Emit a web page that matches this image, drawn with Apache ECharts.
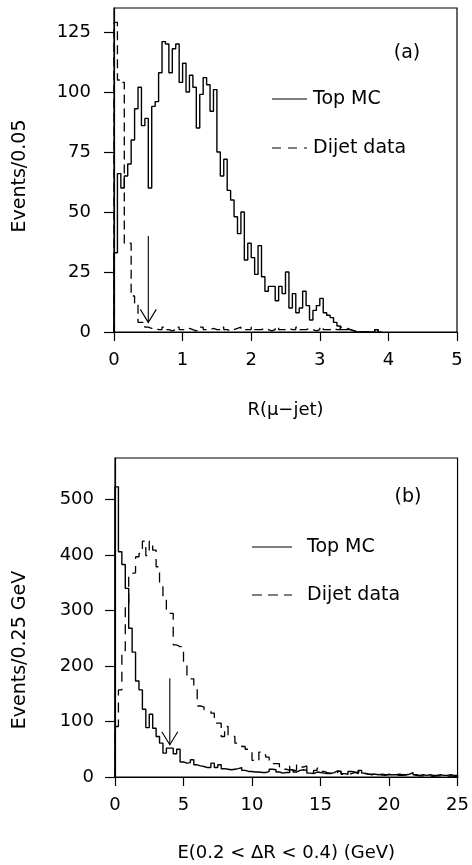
<!DOCTYPE html>
<html>
<head>
<meta charset="utf-8">
<script src="https://cdn.jsdelivr.net/npm/echarts@6/dist/echarts.min.js"></script>
<style>html,body{margin:0;padding:0;background:#fff}#c{width:472px;height:865px}</style>
</head>
<body>
<div id="c"></div>
<script>
// ---------- Panel (a): R(mu-jet), bin width 0.05 ----------
const binA = 0.05;
const topMC_A = [33, 66, 60, 65, 70, 80, 93, 102, 86, 89,
  60, 94, 96, 108, 121, 120, 108, 118, 120, 104,
  112, 100, 107, 102, 85, 99, 106, 103, 92, 101,
  75, 65, 72, 59, 55, 48, 41, 50, 30, 37,
  31, 24, 36, 23, 17, 19, 19, 13, 19, 16,
  25, 10, 16, 8, 10, 17, 11, 5, 9, 11,
  14, 8, 7, 6, 4, 2.5, 1, 1, 1, 0.5,
  0, 0, 0, 0, 0, 0, 1, 0];
const dijet_A = [129, 105, 104, 37, 37, 15, 12, 4, 4, 2,
  1.5, 1.5, 1, 1, 2, 1, 0.5, 1, 2, 1,
  1, 1.5, 1, 0.5, 1, 2, 1, 1, 1.5, 1,
  1, 2, 1, 0.5, 1, 1.5, 2, 1, 1, 1,
  2, 1, 1, 1.5, 1, 0.5, 1, 2, 1, 1,
  1.5, 1, 1, 2, 1, 1, 1.5, 1, 0.5, 1,
  2, 1, 1, 1.5, 1, 1, 2, 1.5, 1, 0.5,
  0.5, 0, 0, 0, 0, 0, 1, 0];
const xTicksA = [0, 1, 2, 3, 4, 5];
const yTicksA = [0, 25, 50, 75, 100, 125];
const arrowA = [0.5, 40, 4];   // x, shaft top, tip (data units)

// ---------- Panel (b): E(0.2<dR<0.4), bin width 0.25 GeV ----------
const binB = 0.25;
const topMC_B = [523, 406, 383, 340, 268, 225, 173, 157, 122, 89,
  113, 88, 73, 61, 43, 52, 52, 42, 50, 27,
  25, 26, 31, 22, 20, 19, 17, 17, 25, 17,
  22, 15, 14, 13, 14, 15, 17, 12, 10, 10,
  9, 9, 8, 8, 10, 14, 13, 9, 7, 8,
  8, 13, 9, 12, 13, 12, 7, 6, 9, 8,
  7, 6, 6, 8, 11, 10, 6, 5, 10, 9,
  6, 12, 7, 5, 5, 5, 4, 5, 4, 4,
  4, 4, 5, 4, 4, 5, 8, 4, 3, 4,
  3, 4, 3, 3, 4, 3, 3, 4, 3, 3];
const dijet_B = [91, 157, 228, 313, 367, 368, 397, 403, 425, 399,
  425, 409, 379, 343, 325, 295, 295, 238, 235, 235,
  205, 181, 177, 163, 128, 126, 121, 119, 115, 97,
  97, 73, 91, 73, 73, 61, 61, 55, 50, 45,
  30, 27, 45, 40, 36, 30, 24, 24, 18, 14,
  12, 20, 12, 22, 18, 20, 10, 8, 12, 16,
  10, 8, 7, 9, 6, 10, 5, 4, 6, 8,
  9, 10, 6, 5, 4, 6, 3, 4, 3, 5,
  3, 4, 3, 3, 4, 3, 5, 3, 2, 2,
  2, 2, 1, 2, 2, 1, 1, 2, 1, 1];
const xTicksB = [0, 5, 10, 15, 20, 25];
const yTicksB = [0, 100, 200, 300, 400, 500];
const arrowB = [4, 178, 58];

const legendNames = ['Top MC', 'Dijet data'];
const yNames = ['Events/0.05', 'Events/0.25 GeV'];

// ---------- helpers ----------
function hist(vals, w) {
  const pts = [[0, 0]];
  vals.forEach((v, i) => pts.push([i * w, v]));
  pts.push([vals.length * w, 0]);
  return pts;
}
const FONT = 'DejaVu Sans';
function arrowSeries(xi, yi, arr) {
  return {
    type: 'custom', xAxisIndex: xi, yAxisIndex: yi, silent: true,
    data: [arr],
    renderItem: function (params, api) {
      const top = api.coord([api.value(0), api.value(1)]);
      const tip = api.coord([api.value(0), api.value(2)]);
      return {
        type: 'group',
        children: [
          { type: 'line', shape: { x1: top[0], y1: top[1], x2: tip[0], y2: tip[1] },
            style: { stroke: '#000', lineWidth: 1.1 } },
          { type: 'polyline', shape: { points: [[tip[0] - 8, tip[1] - 13], tip, [tip[0] + 8, tip[1] - 13]] },
            style: { stroke: '#000', lineWidth: 1.1, fill: null } }
        ]
      };
    }
  };
}
function xAx(grid, max, interval, name, gap, margin) {
  return {
    type: 'value', gridIndex: grid, min: 0, max: max, interval: interval,
    name: name, nameLocation: 'middle', nameGap: gap,
    nameTextStyle: { fontFamily: FONT, fontSize: 18, color: '#000' },
    axisLine: { show: true, onZero: false, lineStyle: { color: '#000', width: 1.2 } },
    axisTick: { show: true, inside: false, length: 9, lineStyle: { color: '#000', width: 1.2 } },
    axisLabel: { fontFamily: FONT, fontSize: 18, color: '#000', margin: margin },
    splitLine: { show: false }
  };
}
function yAx(grid, max, interval, margin) {
  return {
    type: 'value', gridIndex: grid, min: 0, max: max, interval: interval,
    axisLine: { show: true, onZero: false, lineStyle: { color: '#000', width: 1.2 } },
    axisTick: { show: true, inside: false, length: 10, lineStyle: { color: '#000', width: 1.2 } },
    axisLabel: { fontFamily: FONT, fontSize: 18, color: '#000', margin: margin, showMaxLabel: false },
    splitLine: { show: false }
  };
}
function yName(text, cx, cy) {
  return { type: 'text', x: cx, y: cy, rotation: Math.PI / 2,
    style: { text: text, fontFamily: FONT, fontSize: 19, fill: '#000', align: 'center', verticalAlign: 'middle' } };
}
function legendGraphic(x0, x1, tx, y1, y2, dash) {
  const txt = (t, y) => ({ type: 'text', x: tx, y: y,
    style: { text: t, fontFamily: FONT, fontSize: 19, fill: '#000', verticalAlign: 'middle' } });
  return [
    { type: 'line', shape: { x1: x0, y1: y1, x2: x1, y2: y1 }, style: { stroke: '#000', lineWidth: 1.2 } },
    { type: 'line', shape: { x1: x0, y1: y2, x2: x1, y2: y2 }, style: { stroke: '#000', lineWidth: 1.2, lineDash: dash } },
    txt(legendNames[0], y1), txt(legendNames[1], y2)
  ];
}

const chart = echarts.init(document.getElementById('c'), null, { renderer: 'canvas' });
const solid = { color: '#000', width: 1.4 };
chart.setOption({
  animation: false,
  backgroundColor: '#fff',
  grid: [
    { left: 114, top: 8, width: 343, height: 324, show: true, borderColor: '#000', borderWidth: 1.2, backgroundColor: 'transparent' },
    { left: 115, top: 458, width: 345, height: 319, show: true, borderColor: '#000', borderWidth: 1.2, backgroundColor: 'transparent' }
  ],
  xAxis: [
    xAx(0, xTicksA[xTicksA.length - 1], xTicksA[1] - xTicksA[0], 'R(μ−jet)', 69, 19),
    xAx(1, xTicksB[xTicksB.length - 1], xTicksB[1] - xTicksB[0], 'E(0.2 < ΔR < 0.4) (GeV)', 67, 19)
  ],
  yAxis: [
    yAx(0, 135, yTicksA[1] - yTicksA[0], 23),
    yAx(1, 575, yTicksB[1] - yTicksB[0], 21)
  ],
  series: [
    { name: legendNames[0], type: 'line', xAxisIndex: 0, yAxisIndex: 0, step: 'end', symbol: 'none',
      data: hist(topMC_A, binA), lineStyle: solid },
    { name: legendNames[1], type: 'line', xAxisIndex: 0, yAxisIndex: 0, step: 'end', symbol: 'none',
      data: hist(dijet_A, binA), lineStyle: { color: '#000', width: 1.3, type: [9, 5] } },
    { name: legendNames[0], type: 'line', xAxisIndex: 1, yAxisIndex: 1, step: 'end', symbol: 'none',
      data: hist(topMC_B, binB), lineStyle: solid },
    { name: legendNames[1], type: 'line', xAxisIndex: 1, yAxisIndex: 1, step: 'end', symbol: 'none',
      data: hist(dijet_B, binB), lineStyle: { color: '#000', width: 1.3, type: [10, 7] } },
    arrowSeries(0, 0, arrowA),
    arrowSeries(1, 1, arrowB)
  ],
  graphic: [
    { type: 'text', x: 407, y: 53, style: { text: '(a)', fontFamily: FONT, fontSize: 19, fill: '#000', align: 'center', verticalAlign: 'middle' } },
    { type: 'text', x: 408, y: 497, style: { text: '(b)', fontFamily: FONT, fontSize: 19, fill: '#000', align: 'center', verticalAlign: 'middle' } },
    yName(yNames[0], 20, 176),
    yName(yNames[1], 20, 650)
  ].concat(legendGraphic(272, 307, 313, 99, 148, [9, 7]))
   .concat(legendGraphic(252, 292, 307, 547, 595, [10, 6]))
});
</script>
</body>
</html>
